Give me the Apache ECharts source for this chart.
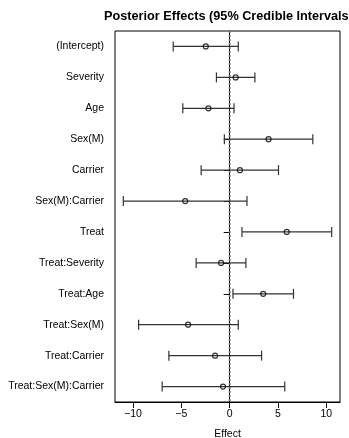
<!DOCTYPE html>
<html>
<head>
<meta charset="utf-8">
<script src="https://cdn.jsdelivr.net/npm/echarts@6/dist/echarts.min.js"></script>
<style>html,body{margin:0;padding:0;background:#fff}#c{width:349px;height:438px}</style>
</head>
<body>
<div id="c"></div>
<script>
const terms = ["(Intercept)","Severity","Age","Sex(M)","Carrier","Sex(M):Carrier","Treat","Treat:Severity","Treat:Age","Treat:Sex(M)","Treat:Carrier","Treat:Sex(M):Carrier"];
const estimate = [-2.47, 0.62, -2.2, 4.02, 1.06, -4.6, 5.9, -0.89, 3.47, -4.3, -1.51, -0.69];
const lower = [-5.84, -1.37, -4.85, -0.55, -2.95, -11.0, 1.27, -3.47, 0.34, -9.42, -6.29, -6.98];
const upper = [0.89, 2.61, 0.45, 8.6, 5.05, 1.79, 10.55, 1.68, 6.6, 0.89, 3.3, 5.7];
const xTicks = [-10, -5, 0, 5, 10];
const refLine = [0];

const chart = echarts.init(document.getElementById('c'), null, {renderer: 'canvas'});
const font = 'Liberation Sans, Arial, Helvetica, sans-serif';
const intervals = terms.map((t, i) => [i, lower[i], upper[i]]);
const points = terms.map((t, i) => [estimate[i], i]);
const dataMin = Math.min(...lower), dataMax = Math.max(...upper);
const pad = (dataMax - dataMin) * 0.04;

chart.setOption({
  animation: false,
  backgroundColor: '#fff',
  title: {
    text: 'Posterior Effects (95% Credible Intervals)',
    left: 104, top: 10, textAlign: 'left', padding: 0,
    textStyle: {fontFamily: font, fontSize: 12.7, fontWeight: 'bold', color: '#000'}
  },
  grid: {left: 115, right: 9, top: 31, bottom: 36, outerBoundsMode: 'none', containLabel: false,
    show: true, borderColor: '#000', borderWidth: 1, backgroundColor: 'transparent'},
  xAxis: {
    type: 'value', min: dataMin - pad, max: dataMax + pad,
    name: 'Effect', nameLocation: 'middle', nameGap: 27,
    nameTextStyle: {fontFamily: font, fontSize: 10.5, color: '#000'},
    axisLine: {show: true, lineStyle: {color: '#000', width: 1}},
    axisTick: {show: true, length: 6, customValues: xTicks, lineStyle: {color: '#000'}},
    axisLabel: {customValues: xTicks, fontFamily: font, fontSize: 10.5, color: '#000', margin: 7,
      formatter: v => String(v).replace('-', '\u2212')},
    splitLine: {show: false}
  },
  yAxis: {
    type: 'category', data: terms, inverse: true,
    axisLine: {show: true, lineStyle: {color: '#000', width: 1}},
    axisTick: {show: true, length: 6, alignWithLabel: true, lineStyle: {color: '#000'}},
    axisLabel: {fontFamily: font, fontSize: 10.5, color: '#000', margin: 11}
  },
  series: [
    {
      type: 'custom',
      data: refLine.map(v => [v]),
      renderItem: function (params, api) {
        const top = api.coord([api.value(0), 0]);
        const cs = params.coordSys;
        return {type: 'line',
          shape: {x1: top[0], y1: cs.y, x2: top[0], y2: cs.y + cs.height},
          style: {stroke: '#7a7a7a', lineWidth: 2, lineDash: [2, 2]}};
      },
      z: 1
    },
    {
      type: 'custom',
      data: intervals,
      renderItem: function (params, api) {
        const i = api.value(0);
        const p1 = api.coord([api.value(1), i]);
        const p2 = api.coord([api.value(2), i]);
        const h = 5;
        const style = {stroke: '#333', lineWidth: 1.2};
        return {type: 'group', children: [
          {type: 'line', shape: {x1: p1[0], y1: p1[1], x2: p2[0], y2: p2[1]}, style: style},
          {type: 'line', shape: {x1: p1[0], y1: p1[1] - h, x2: p1[0], y2: p1[1] + h}, style: style},
          {type: 'line', shape: {x1: p2[0], y1: p2[1] - h, x2: p2[0], y2: p2[1] + h}, style: style}
        ]};
      },
      z: 2
    },
    {
      type: 'scatter', data: points, symbol: 'circle', symbolSize: 5,
      itemStyle: {color: 'rgba(255,255,255,0)', borderColor: '#000', borderWidth: 1.2},
      z: 3
    }
  ]
});
</script>
</body>
</html>
